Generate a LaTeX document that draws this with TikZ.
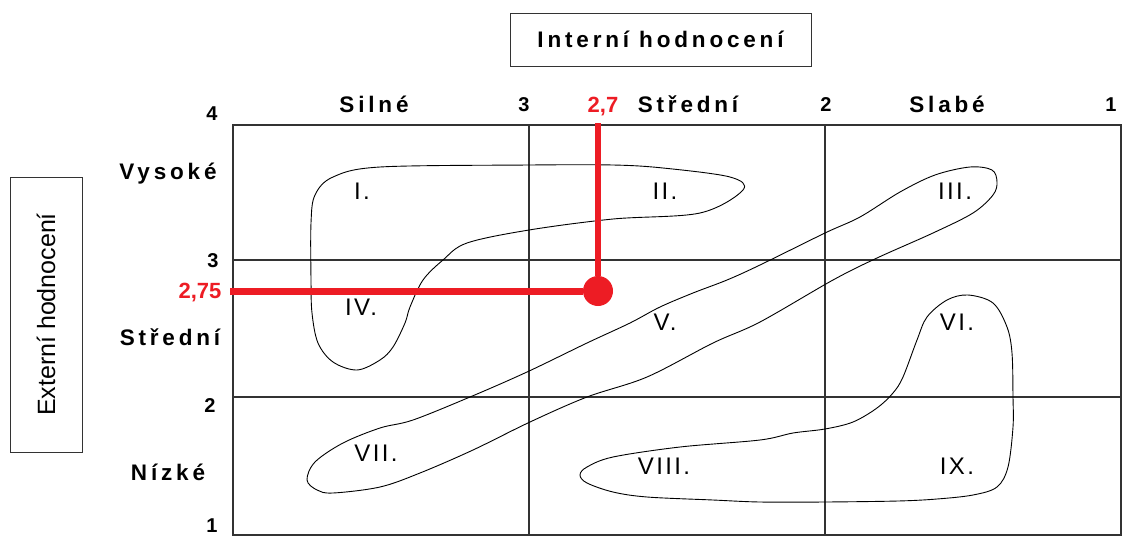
\documentclass[tikz,border=0pt]{standalone}
\usepackage{fontspec}
\setmainfont{Liberation Sans}
\newfontfamily\widefont[LetterSpace=17]{Liberation Sans}
\newfontfamily\romfont[LetterSpace=10]{Liberation Sans}
\definecolor{markred}{HTML}{ED1C24}
\definecolor{gridgray}{HTML}{333333}

\begin{document}
\begin{tikzpicture}[x=1pt,y=-1pt,
    axis/.style={font=\fontsize{22.5}{26}\widefont\bfseries,anchor=base},
    num/.style={font=\fontsize{20}{24}\selectfont\bfseries,anchor=base},
    rednum/.style={font=\fontsize{22}{26}\selectfont\bfseries,text=markred,anchor=base},
    rom/.style={font=\fontsize{24}{28}\romfont,anchor=base},
    boxed/.style={draw=gridgray,line width=1pt,inner sep=0pt},
    zone/.style={line width=.9pt}]
    \useasboundingbox (0,0) rectangle (1122,536);
    \draw[gridgray,line width=1.3pt] (233,125) rectangle (1121,535)
        (529,125) -- (529,535) (825,125) -- (825,535)
        (233,260) -- (1121,260) (233,397) -- (1121,397);
    \node[boxed,minimum width=301,minimum height=53] (intern) at (660.5,39.5)
        {\fontsize{22.5}{26}\widefont\bfseries Interní hodnocení};
    \node[boxed,rotate=90,minimum width=275,minimum height=72] (extern) at (46,314.5)
        {\fontsize{25}{28}\selectfont Externí hodnocení};
    \node[axis] (silne) at (374,112) {Silné};
    \node[axis] (stredniI) at (688,112) {Střední};
    \node[axis] (slabe) at (947,112) {Slabé};
    \node[axis] (vysoke) at (168,179) {Vysoké};
    \node[axis] (stredniE) at (170,345) {Střední};
    \node[axis] (nizke) at (168,480) {Nízké};
    \node[num] (top3) at (524,111) {3};
    \node[num] (top2) at (826,111) {2};
    \node[num] (top1) at (1111,111) {1};
    \node[num] (left4) at (212,120) {4};
    \node[num] (left3) at (213,267) {3};
    \node[num] (left2) at (210,412) {2};
    \node[num] (left1) at (212,532) {1};
    \draw[zone] plot[smooth cycle,tension=.55] coordinates {(333,177) (380,167) (529,165)
        (613,165) (663,168) (730,177) (743,190) (700,213) (613,219) (529,230) (467,243)
        (443,260) (423,280) (410,307) (405,323) (393,347) (380,360) (357,370) (333,362)
        (318,343) (312,313) (311,280) (311,223) (315,195)};
    \draw[zone] plot[smooth cycle,tension=.55] coordinates {(307,480) (315,462) (343,443)
        (380,428) (413,420) (470,397) (527,372) (587,343) (630,323) (660,307) (693,293)
        (727,280) (760,265) (825,233) (860,217) (900,192) (935,175) (970,167) (992,170)
        (997,182) (993,195) (973,213) (933,233) (877,258) (833,280) (760,322) (713,343)
        (647,377) (587,397) (530,422) (473,450) (420,473) (380,487) (333,493) (317,490)};
    \draw[zone] plot[smooth cycle,tension=.55] coordinates {(947,300) (968,295) (993,303)
        (1007,327) (1012,353) (1013,397) (1013,427) (1008,467) (997,487) (973,495)
        (937,499) (898,501) (825,502) (760,502) (713,500) (647,497) (613,492) (587,483)
        (580,475) (587,467) (613,457) (680,447) (760,440) (793,433) (825,429) (853,422)
        (877,408) (893,393) (903,377) (917,340) (927,317)};
    \node[rom] (zI) at (362,199) {I.};
    \node[rom] (zII) at (665,199) {II.};
    \node[rom] (zIII) at (955,199) {III.};
    \node[rom] (zIV) at (361,315) {IV.};
    \node[rom] (zV) at (665,330) {V.};
    \node[rom] (zVI) at (957,330) {VI.};
    \node[rom] (zVII) at (376,461) {VII.};
    \node[rom] (zVIII) at (664,474) {VIII.};
    \node[rom] (zIX) at (957,474) {IX.};
    \coordinate (vtop) at (598,123);
    \coordinate (hleft) at (230,291);
    \node[circle,fill=markred,minimum size=30,inner sep=0pt] (dot) at (598,291) {};
    \draw[markred,line width=6.5pt] (vtop) -- (dot);
    \draw[markred,line width=7pt] (hleft) -- (dot);
    \node[rednum] (val27) at (603,112) {2,7};
    \node[rednum] (val275) at (200,298) {2,75};
\end{tikzpicture}
\end{document}
